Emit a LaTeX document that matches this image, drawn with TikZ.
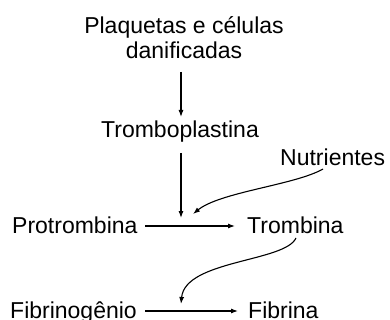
\documentclass[tikz,border=0pt]{standalone}
\usepackage{fontspec}
\setmainfont{Liberation Sans}
\usetikzlibrary{arrows.meta}
\begin{document}
\begin{tikzpicture}[x=1pt,y=-1pt,
  txt/.style={font=\fontsize{23}{25.5}\selectfont, inner sep=0pt},
  arr/.style={-{Latex[length=7pt,width=5pt]}, line width=1.1pt}]
\useasboundingbox (0,0) rectangle (390,320);
\node[txt, anchor=base, align=center] (plaq) at (184,59) {Plaquetas e células\\danificadas};
\node[txt, anchor=base] (tpl) at (180,138) {Tromboplastina};
\node[txt, anchor=base west] (nutr) at (280,166) {Nutrientes};
\node[txt, anchor=base west] (prot) at (12,233) {Protrombina};
\node[txt, anchor=base west] (trom) at (247,233) {Trombina};
\node[txt, anchor=base west] (fgen) at (10,318) {Fibrinogênio};
\node[txt, anchor=base west] (fib) at (248,318) {Fibrina};
\coordinate (a1s) at (181,72);
\coordinate (a1e) at (181,117);
\coordinate (a2s) at (181,153);
\coordinate (m1) at (181,218);
\coordinate (m1n) at (193,214);
\coordinate (m2) at (181,304);
\coordinate (ns) at (323,169);
\coordinate (ts) at (296,238);
\coordinate (h1s) at (145,226);
\coordinate (h1e) at (235,226);
\coordinate (h2s) at (145,311);
\coordinate (h2e) at (238,311);
\draw[arr] (a1s) -- (a1e);
\draw[arr] (a2s) -- (m1);
\draw[arr] (h1s) -- (h1e);
\draw[arr] (h2s) -- (h2e);
\draw[arr] (ns) .. controls (295,185) and (220,192) .. (m1n);
\draw[arr] (ts) .. controls (285,262) and (185,260) .. (m2);
\end{tikzpicture}
\end{document}
